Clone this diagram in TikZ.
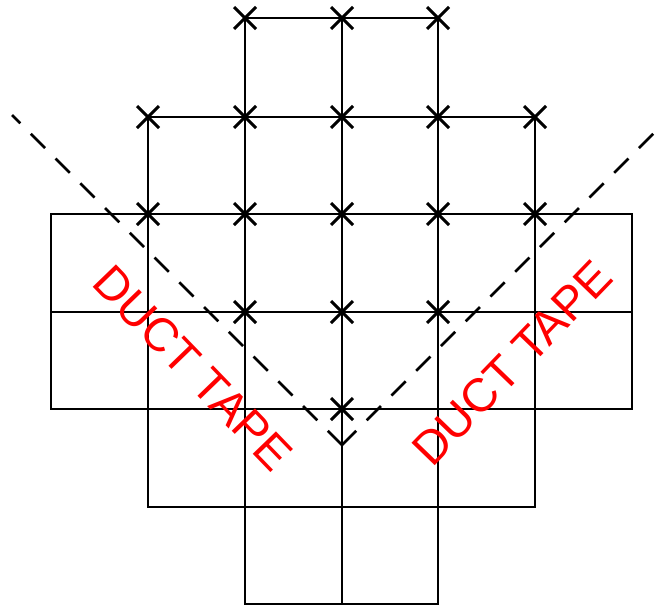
\documentclass[tikz,border=0pt]{standalone}
\usepackage{fontspec}
\setmainfont{Liberation Sans}
\usetikzlibrary{shapes.misc}
\begin{document}
\begin{tikzpicture}[x={(1pt,0pt)},y={(0pt,-1pt)},
  gridline/.style={line width=2pt,black,line cap=rect},
  xmark/.style={cross out,draw=black,line width=3pt,inner sep=0pt,minimum size=19pt},
  tapeline/.style={line width=2.5pt,black,dash pattern=on 20pt off 15pt},
  tapelabel/.style={text=red,font=\fontsize{47}{47}\selectfont,inner sep=0pt}]
\useasboundingbox (0,0) rectangle (658,608);
% grid coordinates: columns 1..5, rows 1..7
\foreach \c/\x in {1/148,2/245,3/342,4/438,5/535}{
  \foreach \r/\y in {1/18,2/117,3/214,4/312,5/409,6/507,7/604}{
    \coordinate (p\c\r) at (\x,\y);
  }
}
\coordinate (ra) at (51,214);
\coordinate (rb) at (632,214);
\coordinate (rc) at (632,409);
\coordinate (rd) at (51,409);
\coordinate (ma) at (51,312);
\coordinate (mb) at (632,312);
% horizontal lines
\draw[gridline] (p21) -- (p41);
\draw[gridline] (p12) -- (p52);
\draw[gridline] (ra) -- (rb);
\draw[gridline] (ma) -- (mb);
\draw[gridline] (rd) -- (rc);
\draw[gridline] (p16) -- (p56);
\draw[gridline] (p27) -- (p47);
% vertical lines
\draw[gridline] (p21) -- (p27);
\draw[gridline] (p31) -- (p37);
\draw[gridline] (p41) -- (p47);
\draw[gridline] (p12) -- (p16);
\draw[gridline] (p52) -- (p56);
\draw[gridline] (ra) -- (rd);
\draw[gridline] (rb) -- (rc);
% crosses
\foreach \p in {21,31,41,12,22,32,42,52,13,23,33,43,53,24,34,44,35}{
  \node[xmark] (x\p) at (p\p) {};
}
% duct tape lines
\coordinate (v) at (342,445);
\coordinate (tl) at (12,115);
\coordinate (tr) at (656,131);
\draw[tapeline] (v) -- (tl);
\draw[tapeline] (v) -- (tr);
% labels
\node[tapelabel,rotate=-46] (lt) at (193,368) {DUCT TAPE};
\node[tapelabel,rotate=46] (rt) at (512,363) {DUCT TAPE};
\end{tikzpicture}
\end{document}
